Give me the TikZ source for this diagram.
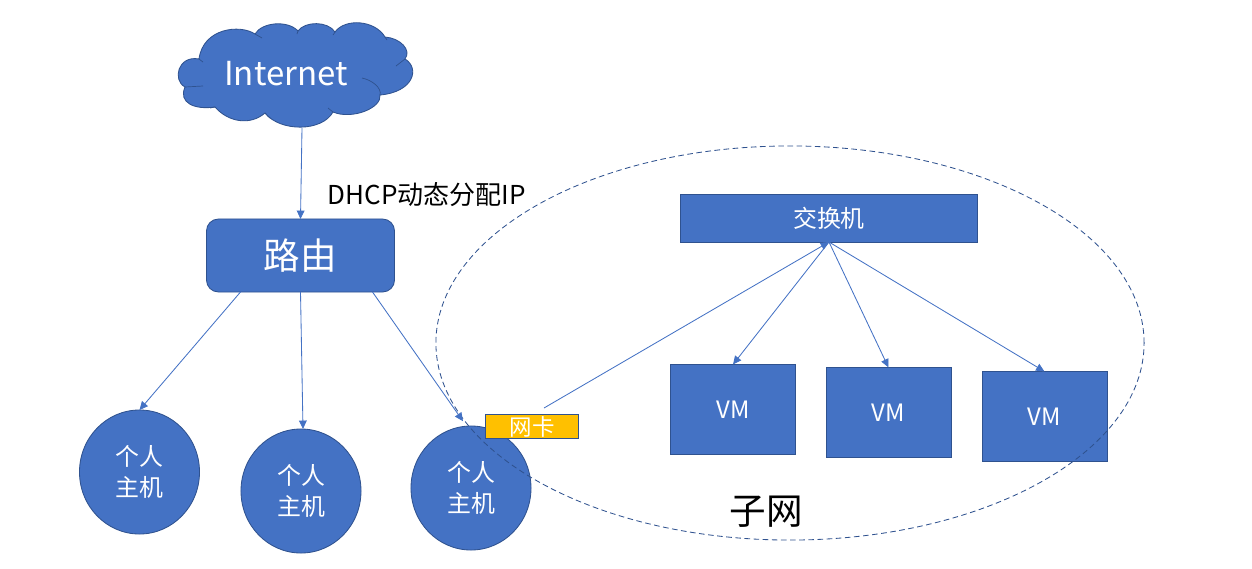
\documentclass[tikz,border=0pt]{standalone}
\usepackage{fontspec}
\setmainfont{Noto Sans CJK SC}
\usetikzlibrary{shapes.geometric,arrows.meta}
\definecolor{boxblue}{HTML}{4472C4}
\definecolor{edgeblue}{HTML}{2F528F}
\definecolor{nicyellow}{HTML}{FFC000}
\tikzset{
  bluebox/.style={draw=edgeblue, fill=boxblue, text=white, inner sep=0pt, outer sep=0pt, line width=0.6pt},
  hostnode/.style={bluebox, ellipse, minimum width=3cm, minimum height=3.1cm, align=center, font=\fontsize{17}{22}\selectfont},
  vmnode/.style={bluebox, minimum width=3.125cm, minimum height=2.25cm, font=\fontsize{17}{20}\selectfont},
  link/.style={draw=boxblue, line width=0.6pt, -{Triangle[length=6pt,width=5.5pt]}}
}
\begin{document}
\begin{tikzpicture}[x=0.025cm, y=-0.025cm]
\useasboundingbox (0,0) rectangle (1252,568);
% Cloud
\draw[bluebox] (199,59) .. controls (203,28) and (240,24) .. (255,34)
  .. controls (262,22) and (288,20) .. (298,31)
  .. controls (305,21) and (328,21) .. (335,32)
  .. controls (345,18) and (375,20) .. (385,37)
  .. controls (400,38) and (412,50) .. (405,59)
  .. controls (420,68) and (414,92) .. (380,95)
  .. controls (382,108) and (352,120) .. (333,112)
  .. controls (322,132) and (280,132) .. (265,113)
  .. controls (250,126) and (228,122) .. (215,107)
  .. controls (195,110) and (178,103) .. (185,87)
  .. controls (172,80) and (178,55) .. (199,59) -- cycle;
\draw[edgeblue, line width=0.5pt] (199,59) -- (203,62) (185,87) -- (203,86)
  (255,34) -- (262,38) (298,31) -- (297,34) (335,32) -- (333,35)
  (385,37) -- (387,40) (405,59) -- (396,66) (333,112) -- (328,108)
  (265,113) -- (270,118) (215,107) -- (210,108);
\draw[edgeblue, line width=0.5pt] (362,78) .. controls (372,80) and (382,88) .. (380,95);
\node[text=white, font=\fontsize{23.5}{28}\selectfont] (internet) at (286,74) {Internet};
\coordinate (cloudout) at (302,128);
% Router and hosts
\node[bluebox, rounded corners=0.3cm, minimum width=4.7cm, minimum height=1.825cm, font=\fontsize{26}{30}\selectfont] (router) at (300.5,255.5) {路由};
\node[hostnode] (hosta) at (139.5,472) {个人\\主机};
\node[hostnode] (hostb) at (301,491) {个人\\主机};
\node[hostnode] (hostc) at (471,488) {个人\\主机};
% Switch and VMs
\node[bluebox, minimum width=7.425cm, minimum height=1.2cm, font=\fontsize{17}{20}\selectfont] (switch) at (829,218) {交换机};
\node[vmnode] (vma) at (733,409.5) {VM};
\node[vmnode] (vmb) at (888.5,412.5) {VM};
\node[vmnode] (vmc) at (1044.5,416.5) {VM};
% Subnet
\node[draw=edgeblue, dash pattern=on 4pt off 2.5pt, line width=0.6pt, ellipse, minimum width=17.7cm, minimum height=9.85cm, inner sep=0pt] (subnet) at (790,343) {};
\node[draw=edgeblue, fill=nicyellow, text=white, line width=0.6pt, minimum width=2.325cm, minimum height=0.62cm, inner sep=0pt, font=\fontsize{16}{18}\selectfont] (nic) at (532,426.5) {网卡};
\coordinate (nicout) at (544,408);
\node[font=\fontsize{18.5}{22}\selectfont] (dhcp) at (427,195) {DHCP动态分配IP};
\node[font=\fontsize{26}{30}\selectfont] (subnetlabel) at (766,512) {子网};
% Connectors
\draw[link] (cloudout) -- (router.north);
\draw[link] ([xshift=-1.5cm]router.south) -- (hosta.north);
\draw[link] (router.south) -- ([xshift=0.05cm]hostb.north);
\draw[link] ([xshift=1.8cm]router.south) -- ([xshift=-0.2cm,yshift=0.12cm]hostc.north);
\draw[link] (nicout) -- (switch.south);
\draw[link] (switch.south) -- (vma.north);
\draw[link] (switch.south) -- (vmb.north);
\draw[link] (switch.south) -- (vmc.north);
\end{tikzpicture}
\end{document}
